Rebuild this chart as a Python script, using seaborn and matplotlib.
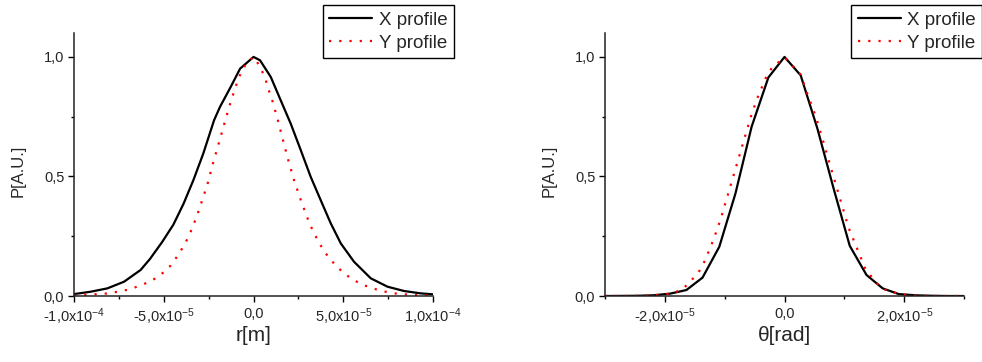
import numpy as np
import pandas as pd
import seaborn as sns
from matplotlib import pyplot as plt
from matplotlib.ticker import FixedLocator, FixedFormatter

# spatial profile, r in units of 1e-5 m
r_x = [-10, -9.07, -8.14, -7.21, -6.29, -5.77, -5.1, -4.47, -3.9, -3.35, -2.8,
       -2.2, -1.87, -1.27, -0.75, 0.0, 0.36, 0.96, 1.51, 2.07, 2.63, 3.18, 3.74,
       4.3, 4.86, 5.6, 6.53, 7.46, 8.38, 9.31, 10.0]
p_r_x = [0.008, 0.018, 0.032, 0.06, 0.109, 0.155, 0.225, 0.298, 0.386, 0.485, 0.596,
         0.735, 0.791, 0.875, 0.951, 1.0, 0.986, 0.916, 0.819, 0.721, 0.61, 0.499,
         0.401, 0.304, 0.22, 0.143, 0.074, 0.039, 0.021, 0.011, 0.007]
r_y = [-10, -9.16, -8.05, -6.88, -5.77, -5.21, -4.65, -4.21, -3.87, -3.59, -3.35,
       -3.13, -2.94, -2.57, -2.27, -1.94, -1.62, -1.29, -0.92, -0.71, -0.38, 0.0,
       0.12, 0.44, 0.68, 0.86, 1.05, 1.37, 1.66, 1.96, 2.29, 2.68, 3.11, 3.37, 3.67,
       4.02, 4.48, 5.0, 5.56, 6.12, 6.68, 7.27, 7.86, 8.42, 9.0, 10.0]
p_r_y = [0.002, 0.006, 0.011, 0.028, 0.06, 0.086, 0.125, 0.17, 0.212, 0.253, 0.297,
         0.34, 0.383, 0.467, 0.552, 0.638, 0.723, 0.808, 0.893, 0.933, 0.976, 1.0,
         0.989, 0.947, 0.903, 0.858, 0.816, 0.731, 0.646, 0.561, 0.476, 0.391, 0.305,
         0.263, 0.22, 0.178, 0.136, 0.097, 0.067, 0.046, 0.031, 0.019, 0.011, 0.007,
         0.004, 0.001]

# angular profile, theta in units of 1e-5 rad
t_x = [-3.0, -2.73, -2.46, -2.19, -1.91, -1.64, -1.37, -1.09, -0.82, -0.55, -0.27,
       0.0, 0.27, 0.55, 0.82, 1.09, 1.37, 1.64, 1.91, 2.19, 2.46, 2.73, 3.0]
p_t_x = [0.0, 0.0005, 0.001, 0.003, 0.01, 0.025, 0.077, 0.206, 0.429, 0.708, 0.914,
         1.0, 0.923, 0.70, 0.45, 0.21, 0.088, 0.032, 0.008, 0.003, 0.001, 0.0, 0.0]
t_y = [-3.0, -2.55, -2.21, -2.04, -1.87, -1.70, -1.56, -1.42, -1.33, -1.26, -1.19,
       -1.07, -0.97, -0.87, -0.77, -0.67, -0.57, -0.45, -0.38, -0.31, -0.21, 0.0,
       0.11, 0.27, 0.39, 0.52, 0.62, 0.77, 0.92, 1.07, 1.21, 1.28, 1.35, 1.48, 1.62,
       1.79, 1.96, 2.12, 2.29, 2.6, 3.0]
p_t_y = [0.0, 0.0, 0.003, 0.006, 0.011, 0.029, 0.064, 0.106, 0.148, 0.191, 0.234,
         0.319, 0.404, 0.489, 0.574, 0.659, 0.745, 0.83, 0.872, 0.914, 0.955, 0.998,
         0.969, 0.926, 0.84, 0.753, 0.669, 0.54, 0.414, 0.286, 0.2, 0.157, 0.114,
         0.072, 0.032, 0.017, 0.007, 0.003, 0.001, 0.0, 0.0]

r_ticks = [-1e-4, -5e-5, 0.0, 5e-5, 1e-4]
r_ticklabels = ['-1,0x10$^{-4}$', '-5,0x10$^{-5}$', '0,0', '5,0x10$^{-5}$', '1,0x10$^{-4}$']
t_ticks = [-2e-5, 0.0, 2e-5]
t_ticklabels = ['-2,0x10$^{-5}$', '0,0', '2,0x10$^{-5}$']
y_ticks = [0.0, 0.5, 1.0]
y_ticklabels = ['0,0', '0,5', '1,0']

sns.set_style('ticks')
plt.rcParams['font.family'] = ['Liberation Sans', 'DejaVu Sans']
plt.rcParams['mathtext.fontset'] = 'custom'
plt.rcParams['mathtext.rm'] = 'Liberation Sans'
plt.rcParams['mathtext.it'] = 'Liberation Sans:italic'
plt.rcParams['mathtext.bf'] = 'Liberation Sans:bold'


def draw_panel(ax, xs, ys, xlim, ticks, ticklabels, minor, xlabel):
    df_x = pd.DataFrame({'x': np.array(xs[0]) * 1e-5, 'p': ys[0]})
    df_y = pd.DataFrame({'x': np.array(xs[1]) * 1e-5, 'p': ys[1]})
    sns.lineplot(data=df_x, x='x', y='p', ax=ax, color='black', lw=1.6,
                 sort=False, estimator=None, label='X profile')
    sns.lineplot(data=df_y, x='x', y='p', ax=ax, color='#ff0000', lw=1.6,
                 linestyle=(0, (1, 3.6)), dash_capstyle='butt',
                 sort=False, estimator=None, label='Y profile')
    ax.set_xlim(xlim)
    ax.set_ylim(0, 1.1)
    ax.xaxis.set_major_locator(FixedLocator(ticks))
    ax.xaxis.set_major_formatter(FixedFormatter(ticklabels))
    ax.xaxis.set_minor_locator(FixedLocator(minor))
    ax.yaxis.set_major_locator(FixedLocator(y_ticks))
    ax.yaxis.set_major_formatter(FixedFormatter(y_ticklabels))
    ax.yaxis.set_minor_locator(FixedLocator([0.25, 0.75]))
    ax.tick_params(which='major', length=4, width=1, labelsize=10.5, pad=3, color='black')
    ax.tick_params(which='minor', length=2.5, width=1, color='black')
    ax.tick_params(axis='x', which='major', pad=3.6)
    for s in ['top', 'right']:
        ax.spines[s].set_visible(False)
    for s in ['left', 'bottom']:
        ax.spines[s].set_color('#222222')
        ax.spines[s].set_linewidth(1.1)
    ax.set_xlabel(xlabel, fontsize=15)
    ax.set_ylabel('P[A.U.]', fontsize=12)
    ax.xaxis.set_label_coords(0.5, -0.115)
    ax.yaxis.set_label_coords(-0.135, 0.475)


fig = plt.figure(figsize=(9.82, 3.62), dpi=100)
ax1 = fig.add_axes([0.0754, 0.1823, 0.3656, 0.7265])
ax2 = fig.add_axes([0.6161, 0.1823, 0.3656, 0.7265])

draw_panel(ax1, (r_x, r_y), (p_r_x, p_r_y), (-1e-4, 1e-4), r_ticks, r_ticklabels,
           [-7.5e-5, -2.5e-5, 2.5e-5, 7.5e-5], 'r[m]')
draw_panel(ax2, (t_x, t_y), (p_t_x, p_t_y), (-3e-5, 3e-5), t_ticks, t_ticklabels,
           [-3e-5, -1e-5, 1e-5, 3e-5], 'θ[rad]')

leg_kw = dict(fontsize=13.5, frameon=True, fancybox=False, edgecolor='black',
              framealpha=1, borderpad=0.35, labelspacing=0.32, handlelength=2.3,
              handletextpad=0.35, borderaxespad=0)
for ax, loc, anchor in [(ax1, 'upper right', (0.4623, 0.986)),
                        (ax2, 'upper left', (0.8666, 0.986))]:
    ax.get_legend().remove()
    leg = ax.legend(loc=loc, bbox_to_anchor=anchor, bbox_transform=fig.transFigure, **leg_kw)
    leg.get_frame().set_linewidth(1.0)

fig.savefig('out.png', dpi=100)
